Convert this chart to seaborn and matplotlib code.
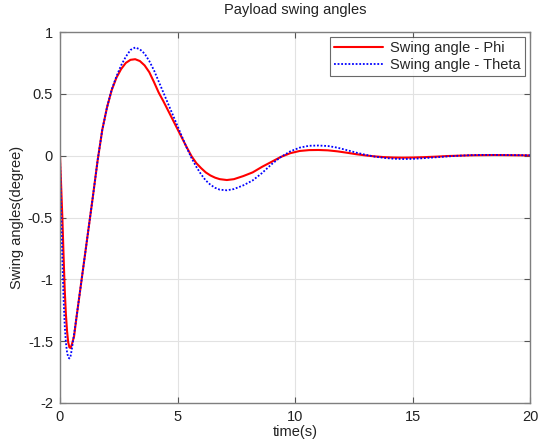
import matplotlib
matplotlib.use("Agg")
import matplotlib.pyplot as plt
import seaborn as sns
import pandas as pd
from matplotlib.ticker import FuncFormatter

time_s = [0, 0.05, 0.1, 0.15, 0.2, 0.25, 0.3, 0.35, 0.4, 0.45, 0.5, 0.6, 0.7, 0.8, 0.9, 1.0,
          1.2, 1.4, 1.6, 1.8, 2.0, 2.2, 2.4, 2.6, 2.8, 3.0, 3.2, 3.4, 3.6, 3.8, 4.0,
          4.2, 4.4, 4.6, 4.8, 5.0, 5.2, 5.4, 5.6, 5.8, 6.0, 6.2, 6.4, 6.6, 6.8, 7.1, 7.4, 7.8,
          8.2, 8.6, 9.0, 9.4, 9.8, 10.2, 10.6, 11.0, 11.4, 11.8, 12.2, 12.6, 13.0,
          13.4, 13.8, 14.2, 14.6, 15.0, 15.5, 16.0, 16.5, 17.0, 17.5, 18.0, 18.5,
          19.0, 19.5, 20.0]

phi = [0, -0.25, -0.5, -0.8, -1.08, -1.28, -1.42, -1.51, -1.55, -1.555, -1.53, -1.46, -1.31,
       -1.17, -1.03, -0.89, -0.61, -0.33, -0.04, 0.21, 0.39, 0.53, 0.63, 0.70, 0.75, 0.775,
       0.78, 0.765, 0.73, 0.675, 0.595, 0.51, 0.44, 0.365, 0.29, 0.215, 0.14, 0.065, -0.005,
       -0.06, -0.10, -0.135, -0.16, -0.178, -0.19, -0.197, -0.19, -0.165, -0.135, -0.09,
       -0.05, -0.01, 0.02, 0.038, 0.045, 0.046, 0.043, 0.035, 0.024, 0.012, 0.002, -0.006,
       -0.012, -0.015, -0.016, -0.015, -0.012, -0.008, -0.003, 0.0, 0.003, 0.004, 0.005,
       0.004, 0.003, 0.002]

theta = [0, -0.45, -0.85, -1.15, -1.37, -1.51, -1.59, -1.63, -1.64, -1.62, -1.57, -1.44, -1.31,
         -1.17, -1.03, -0.89, -0.61, -0.33, -0.04, 0.21, 0.39, 0.535, 0.64, 0.73, 0.80, 0.855,
         0.875, 0.86, 0.825, 0.765, 0.69, 0.60, 0.51, 0.42, 0.33, 0.24, 0.15, 0.06, -0.02,
         -0.09, -0.15, -0.20, -0.235, -0.26, -0.275, -0.28, -0.27, -0.24, -0.20, -0.14,
         -0.07, -0.01, 0.035, 0.065, 0.08, 0.082, 0.078, 0.065, 0.045, 0.025, 0.007, -0.008,
         -0.018, -0.025, -0.027, -0.026, -0.02, -0.013, -0.006, 0.0, 0.004, 0.006, 0.006,
         0.005, 0.004, 0.003]

series_names = ["Swing angle - Phi", "Swing angle - Theta"]
x_ticks = [0, 5, 10, 15, 20]
y_ticks = [-2, -1.5, -1, -0.5, 0, 0.5, 1]

sns.set_theme(style="white")
plt.rcParams["font.family"] = ["Liberation Sans", "DejaVu Sans"]
plt.rcParams["axes.unicode_minus"] = False

df = pd.DataFrame({"t": time_s, series_names[0]: phi, series_names[1]: theta})

fig = plt.figure(figsize=(5.38, 4.45), dpi=100)
ax = fig.add_axes([60 / 538, 42 / 445, 470 / 538, 371 / 445])

sns.lineplot(data=df, x="t", y=series_names[0], ax=ax, color="#ff0000", linewidth=1.5,
             label=series_names[0])
sns.lineplot(data=df, x="t", y=series_names[1], ax=ax, color="#0000ff", linewidth=1.3,
             linestyle=(0, (1, 1)), label=series_names[1])

ax.set_xlim(0, 20)
ax.set_ylim(-2, 1)
ax.set_xticks(x_ticks)
ax.set_yticks(y_ticks)
ax.yaxis.set_major_formatter(FuncFormatter(lambda v, p: f"{v:g}"))
ax.grid(True, color="#e2e2e2", linewidth=0.8)
ax.set_axisbelow(True)
for s in ax.spines.values():
    s.set_color("#7f7f7f")
    s.set_linewidth(1.0)
ax.tick_params(direction="in", length=4, width=0.8, color="#555555", labelsize=10.5,
               top=True, right=True, bottom=True, left=True, labelcolor="#222222", pad=5)

ax.set_title("Payload swing angles", fontsize=10.5, color="#222222", pad=13)
ax.set_xlabel("time(s)", fontsize=10.5, color="#222222", labelpad=1)
ax.set_ylabel("Swing angles(degree)", fontsize=10.5, color="#222222", labelpad=3)

leg = ax.legend(loc="upper right", fontsize=10.5, frameon=True, fancybox=False,
                borderpad=0.3, labelspacing=0.15, handlelength=3.3, handletextpad=0.5,
                borderaxespad=0.35)
leg.get_frame().set_edgecolor("#444444")
leg.get_frame().set_linewidth(0.8)

fig.savefig("out.png", dpi=100)
